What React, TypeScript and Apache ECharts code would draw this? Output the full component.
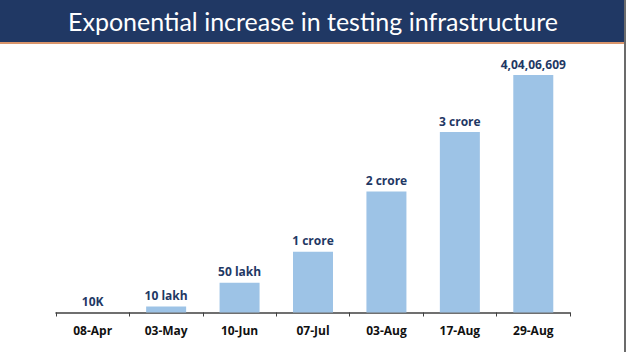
import React, { useEffect, useRef } from "react";
import * as echarts from "echarts";

const categories = ["08-Apr", "03-May", "10-Jun", "07-Jul", "03-Aug", "17-Aug", "29-Aug"];
const tests = [10000, 1000000, 5070000, 10350000, 20600000, 30700000, 40406609];
const valueLabels = ["10K", "10 lakh", "50 lakh", "1 crore", "2 crore", "3 crore", "4,04,06,609"];
const title = "Exponential increase in testing infrastructure";

export default function App() {
  const ref = useRef<HTMLDivElement>(null);
  useEffect(() => {
    const chart = echarts.init(ref.current!, null, { renderer: "svg" });
    chart.setOption({
      animation: false,
      backgroundColor: "#ffffff",
      graphic: [
        { type: "rect", shape: { x: 0, y: 0, width: 626, height: 42 }, style: { fill: "#203864" } },
        { type: "rect", shape: { x: 0, y: 42, width: 626, height: 2 }, style: { fill: "#d9956b" } },
        { type: "rect", shape: { x: 624, y: 0, width: 2, height: 352 }, style: { fill: "#6b6b6b" } },
        {
          type: "text",
          x: 313,
          y: 21,
          style: {
            text: title,
            fill: "#ffffff",
            font: "25px Lato, 'Noto Sans', sans-serif",
            align: "center",
            verticalAlign: "middle",
          },
        },
      ],
      grid: { left: 56, right: 56, top: 75, bottom: 39.5 },
      xAxis: {
        type: "category",
        data: categories,
        axisLine: { lineStyle: { color: "#404040", width: 1.5 } },
        axisTick: { show: true, length: 4, lineStyle: { color: "#404040" } },
        axisLabel: {
          color: "#111111",
          fontWeight: "bold",
          fontSize: 12,
          fontFamily: "'Open Sans', 'Noto Sans', sans-serif",
          margin: 12,
        },
      },
      yAxis: {
        type: "value",
        min: 0,
        max: "dataMax",
        show: false,
        splitLine: { show: false },
      },
      series: [
        {
          type: "bar",
          data: tests,
          barWidth: 40,
          itemStyle: { color: "#9dc3e6" },
          label: {
            show: true,
            position: "top",
            distance: 5,
            color: "#1f3864",
            fontWeight: "bold",
            fontSize: 12,
            fontFamily: "'Open Sans', 'Noto Sans', sans-serif",
            formatter: (p: any) => valueLabels[p.dataIndex],
          },
        },
      ],
    });
    return () => chart.dispose();
  }, []);
  return <div ref={ref} style={{ width: 626, height: 352, position: "absolute", left: 0, top: 0 }} />;
}
